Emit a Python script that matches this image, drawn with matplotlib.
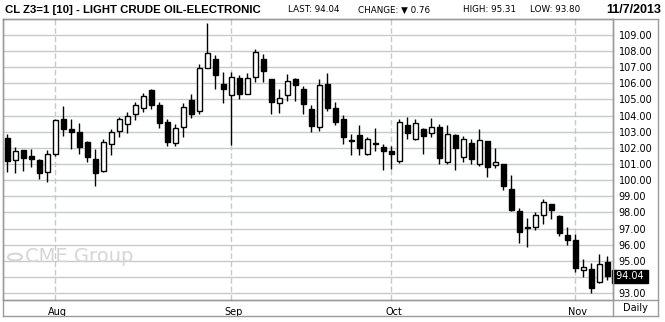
import numpy as np
import matplotlib
matplotlib.use('Agg')
import matplotlib.pyplot as plt
from matplotlib.lines import Line2D

# daily OHLC, 24 Jul 2013 .. 7 Nov 2013
opens = [102.64, 101.25, 101.85, 101.48, 101.27, 100.53,
         101.65, 103.76, 103.14, 103.01, 102.39, 101.34, 100.55, 102.27, 103.05, 103.49,
         104.07, 104.49, 105.60, 104.63, 103.62, 102.33, 103.29, 104.94, 104.28, 106.97,
         107.49, 105.98,
         105.29, 106.34, 105.35, 106.39, 107.48, 106.24, 104.79, 105.29, 106.24, 105.62,
         104.44, 103.28, 105.99, 104.48, 103.82, 102.51, 102.78, 101.64, 102.32, 102.07,
         101.83, 101.18, 103.40, 102.53, 103.15, 102.90, 103.32, 101.14, 102.82, 101.45,
         102.33, 101.02, 102.41, 100.97, 101.01, 99.47, 98.10, 97.10, 97.07, 97.81,
         98.52, 97.79, 96.61,
         96.30, 94.43, 94.49, 93.66, 94.90]
highs = [102.85, 102.04, 101.88, 101.92, 101.30, 101.85,
         103.78, 104.60, 103.82, 103.57, 102.42, 101.96, 102.52, 103.16, 103.94, 104.20,
         104.86, 105.42, 105.62, 104.86, 103.80, 103.45, 104.80, 105.31, 107.22, 109.72,
         107.76, 106.72,
         106.72, 106.49, 106.65, 108.14, 107.79, 106.30, 105.62, 106.61, 106.36, 105.83,
         104.63, 106.24, 106.65, 104.87, 104.05, 102.87, 103.40, 102.70, 103.21, 102.26,
         102.14, 103.79, 103.94, 103.81, 103.25, 103.88, 103.46, 103.42, 102.85, 102.72,
         102.57, 103.14, 102.43, 102.00, 101.03, 100.34, 98.27, 97.65, 98.04, 98.85,
         98.55, 97.85, 97.07,
         96.65, 95.10, 94.85, 95.41, 95.31]
lows = [100.51, 100.47, 100.57, 100.82, 100.09, 99.91,
        101.50, 102.74, 101.96, 101.63, 101.15, 99.64, 100.53, 101.56, 102.68, 102.91,
        103.70, 104.20, 104.38, 103.22, 102.11, 102.11, 102.69, 103.87, 104.11, 106.95,
        105.65, 104.78,
        102.18, 105.00, 105.33, 106.07, 106.07, 104.07, 104.17, 104.89, 104.89, 104.07,
        102.97, 103.05, 104.27, 103.40, 102.24, 101.54, 101.56, 101.56, 101.81, 100.63,
        100.69, 101.08, 102.57, 102.50, 101.64, 102.67, 101.02, 101.02, 100.65, 101.14,
        101.02, 100.89, 100.18, 100.76, 99.37, 98.06, 96.13, 95.88, 96.92, 97.29,
        97.61, 96.51, 95.99,
        94.33, 94.02, 93.02, 93.60, 93.80]
closes = [101.19, 101.79, 101.36, 101.31, 100.47, 101.63,
          103.70, 103.20, 102.99, 102.08, 101.46, 100.47, 102.39, 103.01, 103.81, 103.99,
          104.63, 105.19, 104.65, 103.55, 102.37, 103.24, 104.55, 104.11, 106.93, 107.86,
          106.52, 105.65,
          106.42, 105.35, 106.34, 107.96, 106.76, 104.83, 105.10, 106.16, 105.89, 104.71,
          103.34, 105.87, 104.46, 103.59, 102.66, 102.41, 102.01, 102.55, 102.26, 101.81,
          101.62, 103.63, 102.94, 103.57, 102.76, 103.30, 101.39, 102.88, 102.01, 102.53,
          101.30, 102.50, 100.81, 101.13, 99.62, 98.12, 96.76, 97.02, 97.81, 98.64,
          98.12, 96.71, 96.26,
          94.54, 94.64, 93.29, 94.80, 94.04]

month_pos = [6, 28, 48, 71]
month_labels = ['Aug', 'Sep', 'Oct', 'Nov']
grid_prices = list(range(93, 110))
label_prices = [p for p in grid_prices if p != 94]   # 94.00 sits under the last-price box
last_price = 94.04

W, H = 665, 322
fig = plt.figure(figsize=(W / 100, H / 100), dpi=100)
fig.patch.set_facecolor('white')

def fx(px):
    return px / W

def fy(py):
    return 1 - py / H

# plot area
ax_l, ax_r, ax_t, ax_b = 3, 613, 19, 300
ax = fig.add_axes([fx(ax_l), fy(ax_b), fx(ax_r - ax_l), fy(ax_t) - fy(ax_b)])
ax.set_xlim(-0.54, 75.7)
ax.set_ylim(92.57, 109.99)

for p in grid_prices:
    ax.axhline(p, color='#c5ccc5', linewidth=1, zorder=0)
for m in month_pos:
    ax.axvline(m, color='#c8c8c8', linewidth=1, linestyle=(0, (4, 2)), zorder=0)

x = np.arange(len(opens))
o = np.array(opens)
c = np.array(closes)
up = c >= o
ax.vlines(x, lows, highs, color='black', linewidth=1, zorder=2)
ax.bar(x[up], (c - o)[up], bottom=o[up], width=0.62, color='white',
       edgecolor='black', linewidth=1, zorder=3)
ax.bar(x[~up], (o - c)[~up], bottom=c[~up], width=0.62, color='black',
       edgecolor='black', linewidth=1, zorder=3)

ax.set_xticks([])
ax.yaxis.tick_right()
ax.set_yticks(label_prices)
ax.set_yticklabels(['%.2f' % p for p in label_prices])
ax.tick_params(axis='y', length=0, pad=4, labelsize=7, labelcolor='black')
for s in ax.spines.values():
    s.set_color('#9a9a9a')
    s.set_linewidth(1)

# last price box
ax.text(1.0, last_price, ' %.2f ' % last_price, transform=ax.get_yaxis_transform(),
        ha='left', va='center', fontsize=7, color='white', zorder=10,
        bbox=dict(boxstyle='square,pad=0.15', facecolor='black', edgecolor='black'))

# month labels
for m, lab in zip(month_pos, month_labels):
    ax.text(m + 0.3, -0.025, lab, transform=ax.get_xaxis_transform(), ha='center',
            va='top', fontsize=7, clip_on=False)
fig.text(fx(635), fy(308), 'Daily', ha='center', va='center', fontsize=7)

# frame around the price column and date row
frame = [((3, 658), (316, 316)), ((3, 658), (300, 300)), ((658, 658), (19, 316)),
         ((3, 3), (19, 316)), ((613, 613), (19, 316)), ((3, 658), (19, 19))]
for xs, ys in frame:
    fig.add_artist(Line2D([fx(xs[0]), fx(xs[1])], [fy(ys[0]), fy(ys[1])],
                          color='#9a9a9a', linewidth=1))

# header
fig.text(fx(5), fy(10), 'CL Z3=1 [10] - LIGHT CRUDE OIL-ELECTRONIC', ha='left', va='center',
         fontsize=8.2, fontweight='bold', family='Liberation Sans')
fig.text(fx(288), fy(10), 'LAST: 94.04', ha='left', va='center', fontsize=6.3)
fig.text(fx(358), fy(10), 'CHANGE: \u25bc 0.76', ha='left', va='center', fontsize=6.3)
fig.text(fx(463), fy(10), 'HIGH: 95.31', ha='left', va='center', fontsize=6.3)
fig.text(fx(530), fy(10), 'LOW: 93.80', ha='left', va='center', fontsize=6.3)
fig.text(fx(661), fy(10), '11/7/2013', ha='right', va='center', fontsize=9,
         fontweight='bold', family='Liberation Sans')

# faint logo
fig.text(fx(25), fy(257), 'CME Group', ha='left', va='center', fontsize=14, color='#d6d6d6')
fig.add_artist(plt.Circle((fx(15), fy(257)), 7 / W, transform=fig.transFigure,
                          facecolor='none', edgecolor='#d6d6d6', linewidth=1.5))

fig.savefig('out.png', dpi=100)
